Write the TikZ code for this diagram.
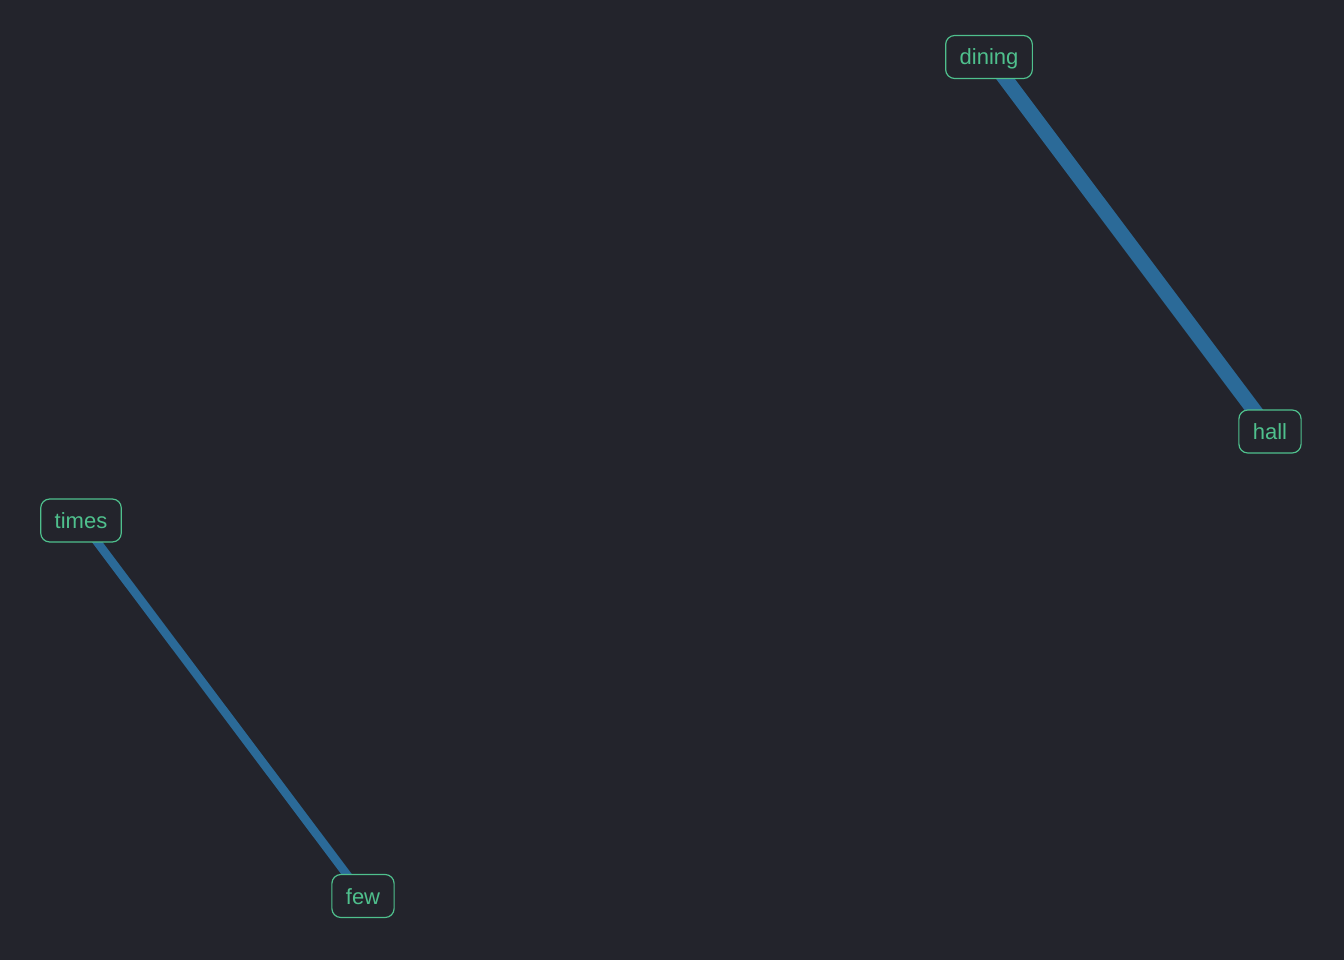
\documentclass[tikz,border=0pt]{standalone}
\usepackage{fontspec}
\setmainfont{Liberation Sans}
\definecolor{bg}{HTML}{23242C}
\definecolor{edgeblue}{HTML}{2B6A98}
\definecolor{nodegreen}{HTML}{4FC08D}
\pgfdeclarelayer{edges}
\pgfsetlayers{edges,main}
\begin{document}
\begin{tikzpicture}[x=1pt,y=-1pt,
  word/.style={draw=nodegreen, line width=1.2pt, fill=bg, text=nodegreen,
    rounded corners=9pt, inner xsep=14pt, minimum height=43pt,
    text height=16pt, text depth=0pt,
    font=\fontsize{22}{25}\selectfont},
  link/.style={draw=edgeblue}]
\begin{pgfonlayer}{edges}
\fill[bg] (0,0) rectangle (1344,960);
\end{pgfonlayer}
\useasboundingbox (0,0) rectangle (1344,960);
\node[word] (dining) at (989,57) {dining};
\node[word] (hall) at (1270,431.5) {hall};
\node[word] (times) at (81,520.5) {times};
\node[word] (few) at (363,896) {few};
\begin{pgfonlayer}{edges}
\draw[link, line width=15pt] (dining.center) -- (hall.center);
\draw[link, line width=8.5pt] (times.center) -- (few.center);
\end{pgfonlayer}
\end{tikzpicture}
\end{document}
